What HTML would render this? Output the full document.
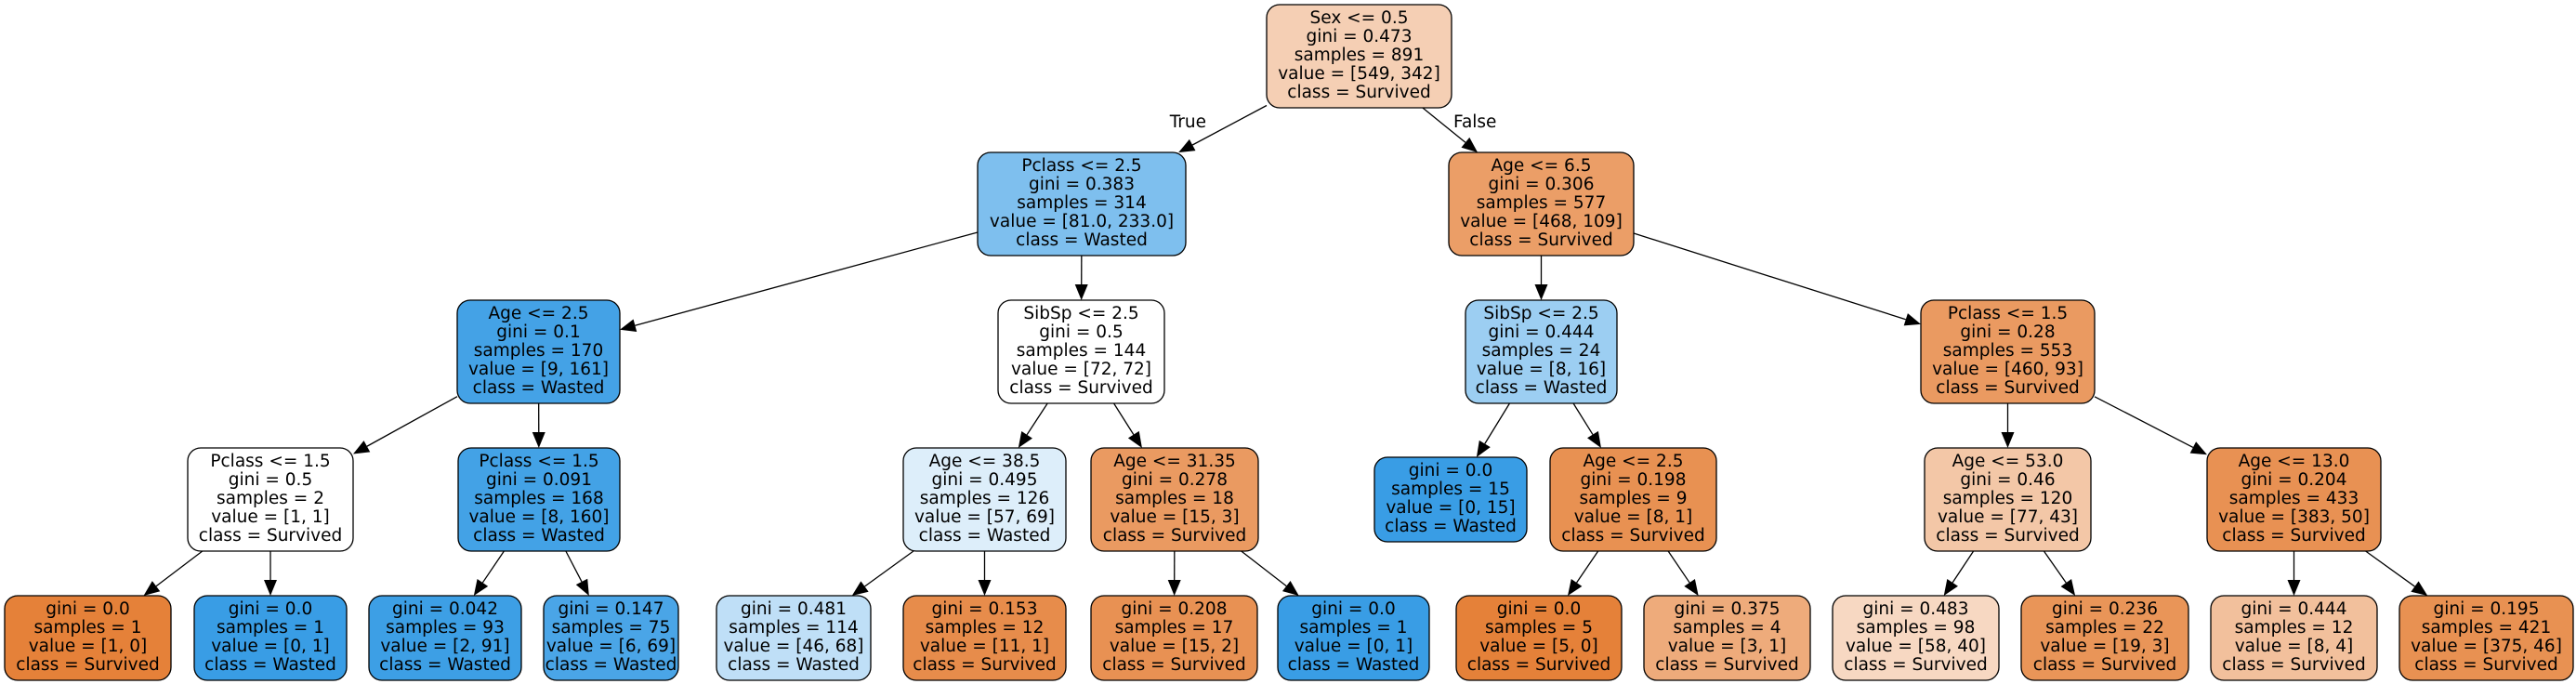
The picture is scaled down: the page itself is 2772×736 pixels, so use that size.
<!DOCTYPE html>
<html><head><meta charset="utf-8"><style>
html,body{margin:0;padding:0;background:#fff;}
svg{display:block;}
text{font-family:"DejaVu Sans","Liberation Sans",sans-serif;font-size:18.5px;fill:#000;text-anchor:middle;}
rect{stroke:#000;stroke-width:1.3;}
line{stroke:#000;stroke-width:1.3;}
</style></head><body>
<svg id="s" width="2772" height="736" viewBox="0 0 2772 736" xmlns="http://www.w3.org/2000/svg">
<g id="edges"></g>
<!-- L0 -->
<rect x="1363" y="5" width="199" height="111" rx="14" fill="#f5cfb4"/>
<text x="1462.5" y="25">Sex &lt;= 0.5</text><text x="1462.5" y="45">gini = 0.473</text><text x="1462.5" y="65">samples = 891</text><text x="1462.5" y="85">value = [549, 342]</text><text x="1462.5" y="105">class = Survived</text>
<text x="1298" y="137" style="text-anchor:end">True</text>
<text x="1564" y="137" style="text-anchor:start">False</text>
<!-- L1 -->
<rect x="1052" y="164" width="224" height="111" rx="14" fill="#7ebfee"/>
<text x="1164" y="184">Pclass &lt;= 2.5</text><text x="1164" y="204">gini = 0.383</text><text x="1164" y="224">samples = 314</text><text x="1164" y="244">value = [81.0, 233.0]</text><text x="1164" y="264">class = Wasted</text>
<rect x="1559" y="164" width="199" height="111" rx="14" fill="#eb9e67"/>
<text x="1658.5" y="184">Age &lt;= 6.5</text><text x="1658.5" y="204">gini = 0.306</text><text x="1658.5" y="224">samples = 577</text><text x="1658.5" y="244">value = [468, 109]</text><text x="1658.5" y="264">class = Survived</text>
<!-- L2 -->
<rect x="492" y="323" width="175" height="111" rx="14" fill="#44a2e6"/>
<text x="579.5" y="343">Age &lt;= 2.5</text><text x="579.5" y="363">gini = 0.1</text><text x="579.5" y="383">samples = 170</text><text x="579.5" y="403">value = [9, 161]</text><text x="579.5" y="423">class = Wasted</text>
<rect x="1074" y="323" width="179" height="111" rx="14" fill="#ffffff"/>
<text x="1163.5" y="343">SibSp &lt;= 2.5</text><text x="1163.5" y="363">gini = 0.5</text><text x="1163.5" y="383">samples = 144</text><text x="1163.5" y="403">value = [72, 72]</text><text x="1163.5" y="423">class = Survived</text>
<rect x="1577" y="323" width="163" height="111" rx="14" fill="#9ccef2"/>
<text x="1658.5" y="343">SibSp &lt;= 2.5</text><text x="1658.5" y="363">gini = 0.444</text><text x="1658.5" y="383">samples = 24</text><text x="1658.5" y="403">value = [8, 16]</text><text x="1658.5" y="423">class = Wasted</text>
<rect x="2067" y="323" width="187" height="111" rx="14" fill="#ea9a61"/>
<text x="2160.5" y="343">Pclass &lt;= 1.5</text><text x="2160.5" y="363">gini = 0.28</text><text x="2160.5" y="383">samples = 553</text><text x="2160.5" y="403">value = [460, 93]</text><text x="2160.5" y="423">class = Survived</text>
<!-- L3 -->
<rect x="202" y="482" width="178" height="111" rx="14" fill="#ffffff"/>
<text x="291" y="502">Pclass &lt;= 1.5</text><text x="291" y="522">gini = 0.5</text><text x="291" y="542">samples = 2</text><text x="291" y="562">value = [1, 1]</text><text x="291" y="582">class = Survived</text>
<rect x="493" y="482" width="174" height="111" rx="14" fill="#43a2e6"/>
<text x="580" y="502">Pclass &lt;= 1.5</text><text x="580" y="522">gini = 0.091</text><text x="580" y="542">samples = 168</text><text x="580" y="562">value = [8, 160]</text><text x="580" y="582">class = Wasted</text>
<rect x="972" y="482" width="175" height="111" rx="14" fill="#ddeefa"/>
<text x="1059.5" y="502">Age &lt;= 38.5</text><text x="1059.5" y="522">gini = 0.495</text><text x="1059.5" y="542">samples = 126</text><text x="1059.5" y="562">value = [57, 69]</text><text x="1059.5" y="582">class = Wasted</text>
<rect x="1174" y="482" width="180" height="111" rx="14" fill="#ea9a61"/>
<text x="1264" y="502">Age &lt;= 31.35</text><text x="1264" y="522">gini = 0.278</text><text x="1264" y="542">samples = 18</text><text x="1264" y="562">value = [15, 3]</text><text x="1264" y="582">class = Survived</text>
<rect x="1479" y="492" width="164" height="91" rx="14" fill="#399de5"/>
<text x="1561" y="512">gini = 0.0</text><text x="1561" y="532">samples = 15</text><text x="1561" y="552">value = [0, 15]</text><text x="1561" y="572">class = Wasted</text>
<rect x="1668" y="482" width="179" height="111" rx="14" fill="#e89152"/>
<text x="1757.5" y="502">Age &lt;= 2.5</text><text x="1757.5" y="522">gini = 0.198</text><text x="1757.5" y="542">samples = 9</text><text x="1757.5" y="562">value = [8, 1]</text><text x="1757.5" y="582">class = Survived</text>
<rect x="2071" y="482" width="179" height="111" rx="14" fill="#f3c7a7"/>
<text x="2160.5" y="502">Age &lt;= 53.0</text><text x="2160.5" y="522">gini = 0.46</text><text x="2160.5" y="542">samples = 120</text><text x="2160.5" y="562">value = [77, 43]</text><text x="2160.5" y="582">class = Survived</text>
<rect x="2375" y="482" width="187" height="111" rx="14" fill="#e89153"/>
<text x="2468.5" y="502">Age &lt;= 13.0</text><text x="2468.5" y="522">gini = 0.204</text><text x="2468.5" y="542">samples = 433</text><text x="2468.5" y="562">value = [383, 50]</text><text x="2468.5" y="582">class = Survived</text>
<!-- L4 -->
<rect x="5" y="641" width="179" height="91" rx="14" fill="#e58139"/>
<text x="94.5" y="661">gini = 0.0</text><text x="94.5" y="681">samples = 1</text><text x="94.5" y="701">value = [1, 0]</text><text x="94.5" y="721">class = Survived</text>
<rect x="209" y="641" width="164" height="91" rx="14" fill="#399de5"/>
<text x="291" y="661">gini = 0.0</text><text x="291" y="681">samples = 1</text><text x="291" y="701">value = [0, 1]</text><text x="291" y="721">class = Wasted</text>
<rect x="397" y="641" width="164" height="91" rx="14" fill="#3d9fe5"/>
<text x="479" y="661">gini = 0.042</text><text x="479" y="681">samples = 93</text><text x="479" y="701">value = [2, 91]</text><text x="479" y="721">class = Wasted</text>
<rect x="585" y="641" width="145" height="91" rx="14" fill="#4aa5e7"/>
<text x="657.5" y="661">gini = 0.147</text><text x="657.5" y="681">samples = 75</text><text x="657.5" y="701">value = [6, 69]</text><text x="657.5" y="721">class = Wasted</text>
<rect x="771" y="641" width="166" height="91" rx="14" fill="#bfdff7"/>
<text x="854" y="661">gini = 0.481</text><text x="854" y="681">samples = 114</text><text x="854" y="701">value = [46, 68]</text><text x="854" y="721">class = Wasted</text>
<rect x="972" y="641" width="175" height="91" rx="14" fill="#e78c4b"/>
<text x="1059.5" y="661">gini = 0.153</text><text x="1059.5" y="681">samples = 12</text><text x="1059.5" y="701">value = [11, 1]</text><text x="1059.5" y="721">class = Survived</text>
<rect x="1174" y="641" width="179" height="91" rx="14" fill="#e89153"/>
<text x="1263.5" y="661">gini = 0.208</text><text x="1263.5" y="681">samples = 17</text><text x="1263.5" y="701">value = [15, 2]</text><text x="1263.5" y="721">class = Survived</text>
<rect x="1375" y="641" width="163" height="91" rx="14" fill="#399de5"/>
<text x="1456.5" y="661">gini = 0.0</text><text x="1456.5" y="681">samples = 1</text><text x="1456.5" y="701">value = [0, 1]</text><text x="1456.5" y="721">class = Wasted</text>
<rect x="1567" y="641" width="178" height="91" rx="14" fill="#e58139"/>
<text x="1656" y="661">gini = 0.0</text><text x="1656" y="681">samples = 5</text><text x="1656" y="701">value = [5, 0]</text><text x="1656" y="721">class = Survived</text>
<rect x="1769" y="641" width="179" height="91" rx="14" fill="#eeab7b"/>
<text x="1858.5" y="661">gini = 0.375</text><text x="1858.5" y="681">samples = 4</text><text x="1858.5" y="701">value = [3, 1]</text><text x="1858.5" y="721">class = Survived</text>
<rect x="1972" y="641" width="179" height="91" rx="14" fill="#f7d8c2"/>
<text x="2061.5" y="661">gini = 0.483</text><text x="2061.5" y="681">samples = 98</text><text x="2061.5" y="701">value = [58, 40]</text><text x="2061.5" y="721">class = Survived</text>
<rect x="2175" y="641" width="180" height="91" rx="14" fill="#e99558"/>
<text x="2265" y="661">gini = 0.236</text><text x="2265" y="681">samples = 22</text><text x="2265" y="701">value = [19, 3]</text><text x="2265" y="721">class = Survived</text>
<rect x="2379" y="641" width="179" height="91" rx="14" fill="#f2c09c"/>
<text x="2468.5" y="661">gini = 0.444</text><text x="2468.5" y="681">samples = 12</text><text x="2468.5" y="701">value = [8, 4]</text><text x="2468.5" y="721">class = Survived</text>
<rect x="2582" y="641" width="187" height="91" rx="14" fill="#e89152"/>
<text x="2675.5" y="661">gini = 0.195</text><text x="2675.5" y="681">samples = 421</text><text x="2675.5" y="701">value = [375, 46]</text><text x="2675.5" y="721">class = Survived</text>
</svg>
<script>
(function(){
var R={
r:[1363,5,199,111],a:[1052,164,224,111],b:[1559,164,199,111],
c:[492,323,175,111],d:[1074,323,179,111],e:[1577,323,163,111],f:[2067,323,187,111],
g:[202,482,178,111],h:[493,482,174,111],i:[972,482,175,111],j:[1174,482,180,111],k:[1479,492,164,91],l:[1668,482,179,111],m:[2071,482,179,111],n:[2375,482,187,111],
o1:[5,641,179,91],o2:[209,641,164,91],o3:[397,641,164,91],o4:[585,641,145,91],o5:[771,641,166,91],o6:[972,641,175,91],o7:[1174,641,179,91],o8:[1375,641,163,91],o9:[1567,641,178,91],o10:[1769,641,179,91],o11:[1972,641,179,91],o12:[2175,641,180,91],o13:[2379,641,179,91],o14:[2582,641,187,91]};
var E=[['r','a'],['r','b'],['a','c'],['a','d'],['b','e'],['b','f'],['c','g'],['c','h'],['d','i'],['d','j'],['e','k'],['e','l'],['f','m'],['f','n'],['g','o1'],['g','o2'],['h','o3'],['h','o4'],['i','o5'],['i','o6'],['j','o7'],['j','o8'],['l','o9'],['l','o10'],['m','o11'],['m','o12'],['n','o13'],['n','o14']];
function c(b){return [b[0]+b[2]/2,b[1]+b[3]/2];}
function clip(b,p,q){// from center p toward q, exit point of box b
var dx=q[0]-p[0],dy=q[1]-p[1],t=1e9;
if(dx!==0)t=Math.min(t,(b[2]/2)/Math.abs(dx));
if(dy!==0)t=Math.min(t,(b[3]/2)/Math.abs(dy));
return [p[0]+dx*t,p[1]+dy*t];}
var g=document.getElementById('edges'),ns='http://www.w3.org/2000/svg';
E.forEach(function(e){
var A=R[e[0]],B=R[e[1]],pa=c(A),pb=c(B);
var s=clip(A,pa,pb),t=clip(B,pb,pa);
var dx=t[0]-s[0],dy=t[1]-s[1],L=Math.sqrt(dx*dx+dy*dy),ux=dx/L,uy=dy/L;
var al=17,w=7;
var bx=t[0]-ux*al,by=t[1]-uy*al;
var ln=document.createElementNS(ns,'line');
ln.setAttribute('x1',s[0]);ln.setAttribute('y1',s[1]);ln.setAttribute('x2',bx);ln.setAttribute('y2',by);
g.appendChild(ln);
var pg=document.createElementNS(ns,'polygon');
pg.setAttribute('points',t[0]+','+t[1]+' '+(bx-uy*w)+','+(by+ux*w)+' '+(bx+uy*w)+','+(by-ux*w));
pg.setAttribute('fill','#000');
g.appendChild(pg);
});
})();
</script>
</body></html>
